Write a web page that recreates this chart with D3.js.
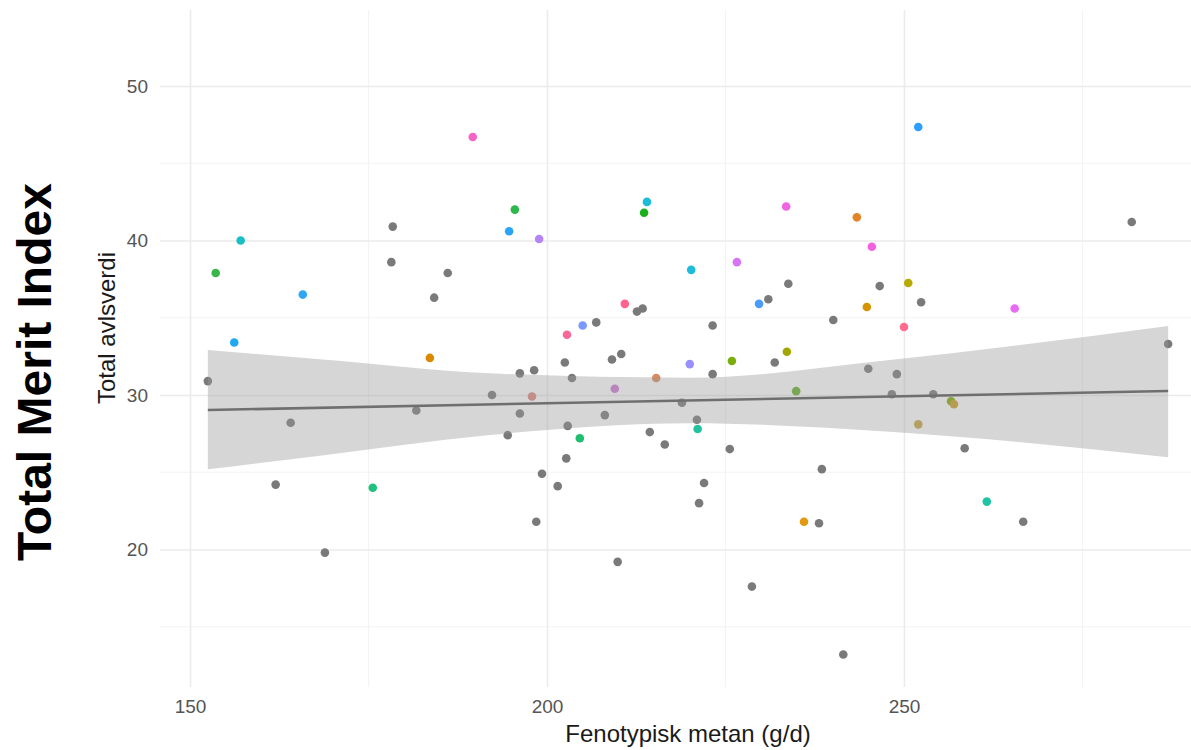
<!DOCTYPE html>
<html>
<head>
<meta charset="utf-8">
<script src="https://cdn.jsdelivr.net/npm/d3@7"></script>
<style>
  html, body { margin: 0; padding: 0; background: #fff; }
  svg { display: block; font-family: "Liberation Sans", Arial, sans-serif; }
</style>
</head>
<body>
<div id="chart"></div>
<script>
// Fenotypisk metan (g/d) per ku
const metan = [
  152.5, 162.0, 164.1, 168.9, 178.2, 178.4, 181.7, 184.2, 186.1, 192.3,
  194.5, 196.2, 196.2, 198.2, 198.5, 199.3, 201.5, 202.5, 202.7, 202.9,
  203.5, 206.9, 208.1, 209.1, 209.9, 210.4, 212.6, 213.4, 214.4, 216.5,
  218.9, 221.0, 221.3, 222.0, 223.2, 223.2, 225.6, 228.7, 231.0, 231.9,
  233.8, 238.1, 238.5, 240.1, 241.5, 245.0, 246.6, 248.3, 249.0, 252.4,
  254.1, 258.5, 266.7, 281.9, 287.0,
  153.6, 156.2, 157.1, 165.8, 175.6, 183.6, 189.6, 194.7, 195.5, 197.9,
  198.9, 202.8, 204.6, 205.0, 209.5, 210.9, 213.6, 214.0, 215.3, 220.0,
  220.2, 221.1, 225.9, 226.6, 229.7, 233.5, 233.6, 234.9, 236.0, 243.4,
  244.8, 245.5, 250.0, 250.6, 252.0, 252.0, 256.6, 257.0, 261.6, 265.5
];

// Total avlsverdi
const avlsverdi = [
  30.9, 24.2, 28.2, 19.8, 38.6, 40.9, 29.0, 36.3, 37.9, 30.0,
  27.4, 31.4, 28.8, 31.6, 21.8, 24.9, 24.1, 32.1, 25.9, 28.0,
  31.1, 34.7, 28.7, 32.3, 19.2, 32.65, 35.4, 35.6, 27.6, 26.8,
  29.5, 28.4, 23.0, 24.3, 34.5, 31.35, 26.5, 17.6, 36.2, 32.1,
  37.2, 21.7, 25.2, 34.85, 13.2, 31.7, 37.05, 30.05, 31.35, 36.0,
  30.05, 26.55, 21.8, 41.2, 33.3,
  37.9, 33.4, 40.0, 36.5, 24.0, 32.4, 46.7, 40.6, 42.0, 29.9,
  40.1, 33.9, 27.2, 34.5, 30.4, 35.9, 41.8, 42.5, 31.1, 32.0,
  38.1, 27.8, 32.2, 38.6, 35.9, 42.2, 32.8, 30.25, 21.8, 41.5,
  35.7, 39.6, 34.4, 37.25, 47.35, 28.1, 29.6, 29.4, 23.1, 35.6
];

// gruppe: 0 = øvrige kyr, 1..40 = markerte okser
const gruppe = [
  0, 0, 0, 0, 0, 0, 0, 0, 0, 0,
  0, 0, 0, 0, 0, 0, 0, 0, 0, 0,
  0, 0, 0, 0, 0, 0, 0, 0, 0, 0,
  0, 0, 0, 0, 0, 0, 0, 0, 0, 0,
  0, 0, 0, 0, 0, 0, 0, 0, 0, 0,
  0, 0, 0, 0, 0,
  1, 2, 3, 4, 5, 6, 7, 8, 9, 10,
  11, 12, 13, 14, 15, 16, 17, 18, 19, 20,
  21, 22, 23, 24, 25, 26, 27, 28, 29, 30,
  31, 32, 33, 34, 35, 36, 37, 38, 39, 40
];

const palett = [
  "#7a7a7a",
  "#39b54a", "#1fa9f0", "#19bfc4", "#2ea6f5", "#1ec27f", "#db8a00", "#f564c4", "#2ba4f8",
  "#2db84d", "#e0877a", "#b584f5", "#f96798", "#1ebe6e", "#7b98ff", "#ce7ad6", "#ff6290",
  "#1baf1b", "#1cbcda", "#da8a5e", "#9890ff", "#1cbcda", "#22c2a0", "#7aae0a", "#d776f5",
  "#4b9bff", "#ee66e2", "#a3a500", "#67b12a", "#e29a10", "#e38428", "#d49500", "#f262e0",
  "#ff6a8e", "#b7aa00", "#2d9dff", "#c9a540", "#7cae00", "#c9a227", "#1ec4a4", "#e76bf3"
];

// lineær trend med konfidensbånd (lest av figuren)
const fitX = [152.5, 287.0];
const fitY = [29.03, 30.26];
const bandX  = [152.5, 168.2, 192.0, 220.0, 248.0, 287.0];
const bandLo = [25.19, 26.07, 27.41, 28.17, 27.62, 25.97];
const bandHi = [32.91, 32.31, 31.40, 31.12, 32.27, 34.47];

const xMajor = [150, 200, 250];
const xMinor = [175, 225, 275];
const yMajor = [20, 30, 40, 50];
const yMinor = [15, 25, 35, 45];

const W = 1191, H = 750;
const panel = { left: 160, right: 1191, top: 10, bottom: 687 };

const svg = d3.select('#chart').append('svg')
  .attr('width', W).attr('height', H);

svg.append('rect').attr('width', W).attr('height', H).attr('fill', '#fff');

const x = d3.scaleLinear().domain([145.8, 290.2]).range([panel.left, panel.right]);
const y = d3.scaleLinear().domain([11.1, 54.92]).range([panel.bottom, panel.top]);

// minor grid
svg.append('g').selectAll('line').data(xMinor).join('line')
  .attr('x1', d => x(d)).attr('x2', d => x(d))
  .attr('y1', panel.top).attr('y2', panel.bottom)
  .attr('stroke', '#f3f3f3').attr('stroke-width', 1.2);
svg.append('g').selectAll('line').data(yMinor).join('line')
  .attr('x1', panel.left).attr('x2', panel.right)
  .attr('y1', d => y(d)).attr('y2', d => y(d))
  .attr('stroke', '#f3f3f3').attr('stroke-width', 1.2);

// major grid via axes
svg.append('g')
  .attr('transform', `translate(0,${panel.bottom})`)
  .call(d3.axisBottom(x).tickValues(xMajor).tickSize(-(panel.bottom - panel.top)).tickPadding(13))
  .call(g => g.select('.domain').remove())
  .call(g => g.selectAll('line').attr('stroke', '#ebebeb').attr('stroke-width', 1.6))
  .call(g => g.selectAll('text').attr('fill', '#555').attr('font-size', 19));

svg.append('g')
  .attr('transform', `translate(${panel.left},0)`)
  .call(d3.axisLeft(y).tickValues(yMajor).tickSize(-(panel.right - panel.left)).tickPadding(12))
  .call(g => g.select('.domain').remove())
  .call(g => g.selectAll('line').attr('stroke', '#ebebeb').attr('stroke-width', 1.6))
  .call(g => g.selectAll('text').attr('fill', '#555').attr('font-size', 19));

// points
const pts = metan.map((m, i) => ({ m, v: avlsverdi[i], g: gruppe[i] }));
svg.append('g').selectAll('circle').data(pts).join('circle')
  .attr('cx', d => x(d.m))
  .attr('cy', d => y(d.v))
  .attr('r', 4.3)
  .attr('fill', d => palett[d.g]);

// confidence band + fit line
const band = bandX.map((b, i) => ({ b, lo: bandLo[i], hi: bandHi[i] }));
svg.append('path')
  .datum(band)
  .attr('d', d3.area().x(d => x(d.b)).y0(d => y(d.lo)).y1(d => y(d.hi)).curve(d3.curveMonotoneX))
  .attr('fill', '#999').attr('fill-opacity', 0.4);

svg.append('path')
  .datum(fitX.map((f, i) => [f, fitY[i]]))
  .attr('d', d3.line().x(d => x(d[0])).y(d => y(d[1])))
  .attr('fill', 'none').attr('stroke', '#6f6f6f').attr('stroke-width', 2.6);

// axis titles
svg.append('text')
  .attr('x', 688).attr('y', 742)
  .attr('text-anchor', 'middle')
  .attr('font-size', 24).attr('fill', '#1a1a1a')
  .text('Fenotypisk metan (g/d)');

svg.append('text')
  .attr('transform', 'translate(115,328) rotate(-90)')
  .attr('text-anchor', 'middle')
  .attr('font-size', 24).attr('fill', '#1a1a1a')
  .text('Total avlsverdi');

svg.append('text')
  .attr('transform', 'translate(51,372) rotate(-90)')
  .attr('text-anchor', 'middle')
  .attr('font-size', 48).attr('font-weight', 'bold').attr('fill', '#000')
  .text('Total Merit Index');
</script>
</body>
</html>
